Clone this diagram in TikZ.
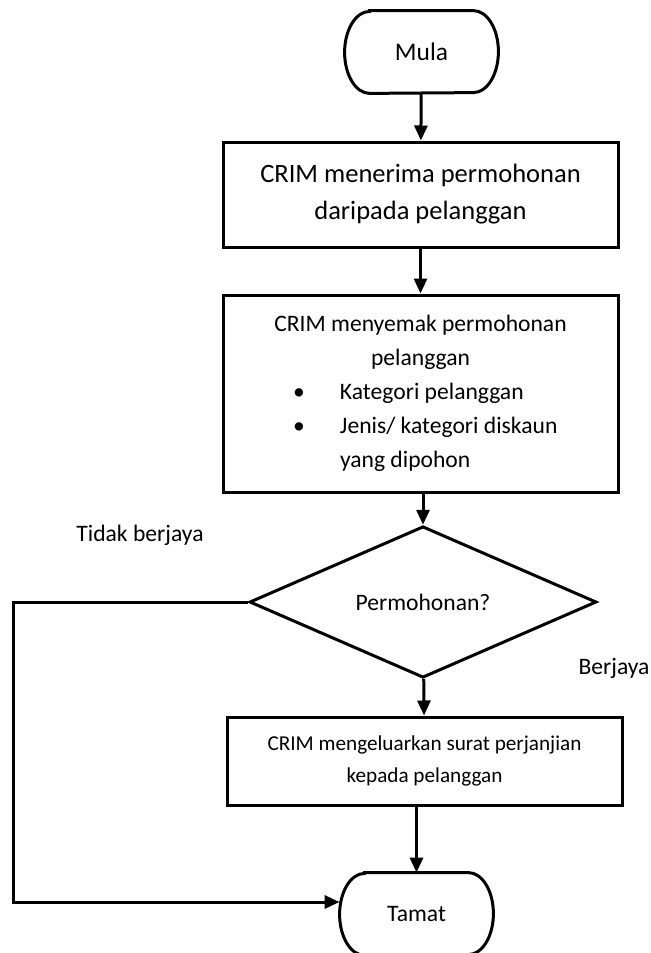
\documentclass[tikz,border=0pt]{standalone}
\usepackage{fontspec}
\setmainfont{Carlito}
\usetikzlibrary{shapes.geometric,arrows.meta}

\begin{document}
\begin{tikzpicture}[x=0.5pt, y=-0.5pt,
    every node/.style={font=\fontsize{11.8}{17}\selectfont},
    term/.style={minimum width=76.5pt, minimum height=41pt},
    kotak/.style={draw, line width=1.5pt, minimum width=197.5pt, align=center},
    arr/.style={-{Triangle[length=7.5pt,width=6.5pt]}, line width=1.5pt}]
    \useasboundingbox (0,0) rectangle (651,953);
    \node[term, font=\fontsize{12.7}{17}\selectfont] (mula) at (421.5,52) {Mula};
    \node[kotak, minimum height=52.5pt, font=\fontsize{13.25}{18.5}\selectfont] (terima) at (420.5,194.5) {CRIM menerima permohonan\\daripada pelanggan};
    \node[kotak, minimum height=98.5pt, text width=150pt, align=flush left] (semak) at (420.5,393.5) {%
        \makebox[150pt]{CRIM menyemak permohonan}\\
        \makebox[150pt]{pelanggan}\\
        \hspace*{11.25pt}\makebox[23.5pt][l]{\textbullet}Kategori pelanggan\\
        \hspace*{11.25pt}\makebox[23.5pt][l]{\textbullet}Jenis/ kategori diskaun\\
        \hspace*{34.75pt}yang dipohon};
    \node[draw, diamond, line width=1.5pt, minimum width=173.5pt, minimum height=59.5pt, inner sep=0pt] (mohon) at (423,602) {Permohonan?};
    \node[kotak, minimum height=44pt, font=\fontsize{10.6}{16}\selectfont] (keluar) at (424.5,761) {CRIM mengeluarkan surat perjanjian\\kepada pelanggan};
    \node[term] (tamat) at (416.5,914) {Tamat};
    \node (tidak) at (140,535) {Tidak berjaya};
    \node (berjaya) at (614,668) {Berjaya};
    \coordinate (belok) at (13,602);
    % bentuk mula / tamat
    \foreach \t in {mula,tamat}
        \draw[line width=1.5pt] ([xshift=12.5pt]\t.north west) -- ([xshift=-12.5pt]\t.north east)
            arc[start angle=90, end angle=-90, x radius=12.5pt, y radius=20.5pt]
            -- ([xshift=12.5pt]\t.south west)
            arc[start angle=270, end angle=90, x radius=12.5pt, y radius=20.5pt] -- cycle;
    % aliran utama
    \draw[arr] (mula) -- (terima);
    \draw[arr] (terima) -- (semak);
    \draw[arr] (semak.south -| mohon.north) -- (mohon.north);
    \draw[arr] (mohon) -- (keluar);
    \draw[arr] (keluar.south -| tamat.north) -- (tamat.north);
    % tidak berjaya
    \draw[arr] (mohon.west) -- (belok) |- ([yshift=6pt]tamat.west);
\end{tikzpicture}
\end{document}
